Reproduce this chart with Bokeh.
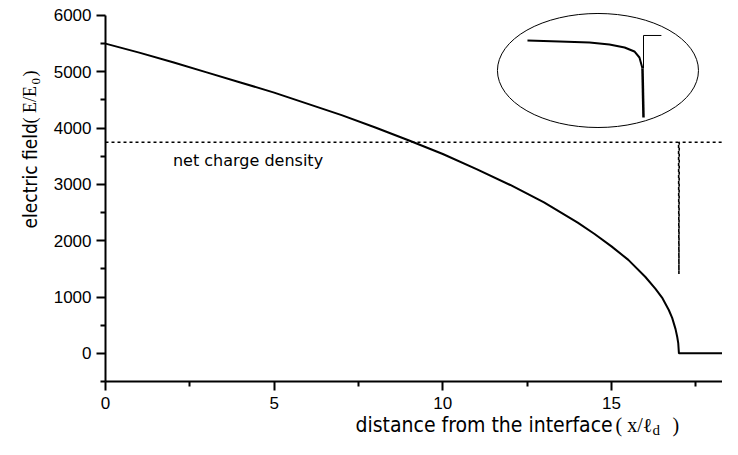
import math
from bokeh.plotting import figure
from bokeh.models import FixedTicker, Label, Range1d
from bokeh.embed import file_html
from bokeh.resources import INLINE

# ---- data ----
field_x = [0, 1, 2, 3, 4, 5, 6, 7, 8, 9, 10, 11, 12, 13, 14, 14.5, 15, 15.5, 16,
           16.3, 16.5, 16.7, 16.8, 16.9, 16.95, 16.98, 17.0, 17.5, 18.0, 18.3]
field_y = [5500, 5340, 5170, 4990, 4810, 4630, 4430, 4230, 4010, 3780, 3540, 3270,
           2990, 2680, 2320, 2120, 1900, 1660, 1360, 1150, 990, 770, 630, 430, 290,
           180, 0, 0, 0, 0]

charge_x = [0, 16.99, 17.0, 17.01, 18.3]
charge_y = [3750, 3750, 1410, 3750, 3750]

inset_curve_x = [12.51, 13.46, 14.35, 14.94, 15.39, 15.68, 15.83, 15.92]
inset_curve_y = [5556, 5538, 5521, 5485, 5432, 5361, 5254, 5059]
inset_drop_x = [15.92, 15.95]
inset_drop_y = [5059, 4189]
inset_step_x = [15.95, 15.95, 16.48]
inset_step_y = [5059, 5645, 5645]
inset_ellipse = dict(x=14.60, y=5023, w=5.96, h=2025)

x_ticks = [0, 5, 10, 15]
x_minor = [2.5, 7.5, 12.5, 17.5]
y_ticks = [0, 1000, 2000, 3000, 4000, 5000, 6000]
y_minor = [-500, 500, 1500, 2500, 3500, 4500, 5500]
x_axis_bounds = (0, 18.3)
y_axis_bounds = (-500, 6000)

x_title = "distance from the interface"
y_title = "electric field"
charge_label = "net charge density"

p = figure(width=722, height=439, output_backend="svg", toolbar_location=None,
           x_range=Range1d(-3.113, 18.292), y_range=Range1d(-1530, 6266),
           min_border_left=0, min_border_right=0, min_border_top=0,
           min_border_bottom=0)
p.outline_line_color = None
p.grid.visible = False
p.background_fill_color = "white"
p.border_fill_color = "white"

for ax in (p.xaxis[0], p.yaxis[0]):
    ax.axis_line_width = 2
    ax.axis_line_color = "black"
    ax.major_tick_line_width = 2
    ax.minor_tick_line_width = 2
    ax.major_tick_line_color = "black"
    ax.minor_tick_line_color = "black"
    ax.major_tick_in = 0
    ax.minor_tick_in = 0
    ax.major_tick_out = 9
    ax.minor_tick_out = 5
    ax.major_label_text_font = "Liberation Sans"
    ax.major_label_text_font_size = "17px"
    ax.major_label_text_color = "black"

p.xaxis[0].ticker = FixedTicker(ticks=x_ticks, minor_ticks=x_minor)
p.yaxis[0].ticker = FixedTicker(ticks=y_ticks, minor_ticks=y_minor)
p.xaxis[0].bounds = x_axis_bounds
p.yaxis[0].bounds = y_axis_bounds
p.xaxis[0].fixed_location = y_axis_bounds[0]
p.yaxis[0].fixed_location = x_axis_bounds[0]
p.xaxis[0].major_label_standoff = 7
p.yaxis[0].major_label_standoff = 5

# main curve
p.line(field_x, field_y, line_color="black", line_width=2)
# net charge density (dashed)
p.line(charge_x, charge_y, line_color="black", line_width=1.6, line_dash="3 3")

# inset
p.ellipse(x=[inset_ellipse["x"]], y=[inset_ellipse["y"]], width=[inset_ellipse["w"]],
          height=[inset_ellipse["h"]], fill_color=None, line_color="black", line_width=1)
p.line(inset_curve_x, inset_curve_y, line_color="black", line_width=2)
p.line(inset_drop_x, inset_drop_y, line_color="black", line_width=2.5)
p.line(inset_step_x, inset_step_y, line_color="black", line_width=1)

narrow = "Liberation Sans Narrow, DejaVu Sans Condensed, sans-serif"
serif = "Liberation Serif, serif"

p.add_layout(Label(x=2.0, y=3425, text=charge_label, text_font="DejaVu Sans",
                   text_font_size="16px", text_baseline="middle", text_color="black"))

# x title
p.add_layout(Label(x=7.41, y=-1264, text=x_title, text_font=narrow,
                   text_font_size="21px", text_baseline="alphabetic", text_color="black"))
p.add_layout(Label(x=15.12, y=-1264, text="( x/\u2113", text_font=serif,
                   text_font_size="20px", text_baseline="alphabetic", text_color="black"))
p.add_layout(Label(x=16.22, y=-1360, text="d", text_font=serif,
                   text_font_size="15px", text_baseline="alphabetic", text_color="black"))
p.add_layout(Label(x=16.81, y=-1264, text=")", text_font=serif,
                   text_font_size="20px", text_baseline="alphabetic", text_color="black"))

# y title
p.add_layout(Label(x=-2.253, y=2217, text=y_title, text_font=narrow, angle=math.pi / 2,
                   text_font_size="19px", text_baseline="alphabetic", text_color="black"))
p.add_layout(Label(x=-2.253, y=4082, text="( E/E", text_font=serif, angle=math.pi / 2,
                   text_font_size="18px", text_baseline="alphabetic", text_color="black"))
p.add_layout(Label(x=-2.075, y=4774, text="0", text_font=serif, angle=math.pi / 2,
                   text_font_size="13px", text_baseline="alphabetic", text_color="black"))
p.add_layout(Label(x=-2.253, y=4916, text=" )", text_font=serif, angle=math.pi / 2,
                   text_font_size="18px", text_baseline="alphabetic", text_color="black"))

open("out.html", "w").write(file_html(p, INLINE))
